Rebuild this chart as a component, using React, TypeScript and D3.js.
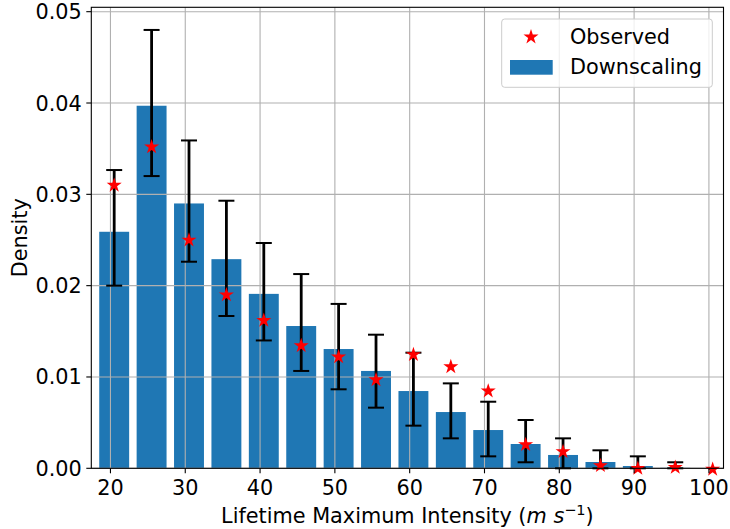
import React from "react";
import * as d3 from "d3";

const centers = [20.5, 25.5, 30.5, 35.5, 40.5, 45.5, 50.5, 55.5, 60.5, 65.5, 70.5, 75.5, 80.5, 85.5, 90.5, 95.5, 100.5];
const downscaling = [0.0259, 0.0397, 0.0290, 0.0229, 0.0191, 0.01558, 0.01306, 0.01066, 0.00846, 0.00616, 0.00419, 0.00266, 0.00146, 0.00069, 0.00025, 0.00005, 0.0];
const errUpper = [0.03266, 0.0480, 0.0359, 0.0293, 0.02467, 0.02127, 0.0180, 0.01463, 0.01266, 0.0093, 0.00729, 0.00529, 0.00328, 0.00197, 0.00131, 0.00066, 0.0];
const errLower = [0.0200, 0.0320, 0.02262, 0.01668, 0.0140, 0.01066, 0.00865, 0.00664, 0.00467, 0.00328, 0.00131, 0.00066, 0.0, 0.0, 0.0, 0.0, 0.0];
const observed = [0.0311, 0.0353, 0.0251, 0.0191, 0.0163, 0.01353, 0.0123, 0.0098, 0.01255, 0.01123, 0.00857, 0.0027, 0.00193, 0.0004, 0.0001, 0.0002, 0.0];
const xTicks = [20, 30, 40, 50, 60, 70, 80, 90, 100];
const yTicks = [0, 0.01, 0.02, 0.03, 0.04, 0.05];

const W = 730, H = 529;
const L = 91.3, R = 723.5, T = 7.3, B = 468.3;
const FONT = "DejaVu Sans, sans-serif";
const FS = 20.8;

export default function App() {
  const x = d3.scaleLinear().domain([17.44, 101.95]).range([L, R]);
  const y = d3.scaleLinear().domain([0, 0.05048]).range([B, T]);
  const barW = x(4) - x(0);
  const star = d3.symbol().type(d3.symbolStar).size(70)() as string;
  const capHalf = 8;

  return (
    <svg width={W} height={H} style={{ position: "absolute", left: 0, top: 0, background: "#fff" }} fontFamily={FONT}>
      <rect x={0} y={0} width={W} height={H} fill="#fff" />
      {/* bars */}
      {centers.map((c, i) => (
        <rect key={"b" + i} x={x(c) - barW / 2} y={y(downscaling[i])} width={barW} height={B - y(downscaling[i])} fill="#1f77b4" />
      ))}
      {/* grid */}
      {xTicks.map((t) => (
        <line key={"gx" + t} x1={x(t)} x2={x(t)} y1={T} y2={B} stroke="#b0b0b0" strokeWidth={1.1} />
      ))}
      {yTicks.map((t) => (
        <line key={"gy" + t} x1={L} x2={R} y1={y(t)} y2={y(t)} stroke="#b0b0b0" strokeWidth={1.1} />
      ))}
      {/* error bars */}
      {centers.map((c, i) =>
        errUpper[i] > 0 ? (
          <g key={"e" + i} stroke="#000" strokeWidth={2.8}>
            <line x1={x(c)} x2={x(c)} y1={y(errUpper[i])} y2={y(errLower[i])} />
            <line x1={x(c) - capHalf} x2={x(c) + capHalf} y1={y(errUpper[i])} y2={y(errUpper[i])} strokeWidth={2} />
            <line x1={x(c) - capHalf} x2={x(c) + capHalf} y1={y(errLower[i])} y2={y(errLower[i])} strokeWidth={2} />
          </g>
        ) : null
      )}
      {/* observed stars */}
      {centers.map((c, i) => (
        <path key={"s" + i} d={star} transform={`translate(${x(c)},${y(observed[i]) + 1})`} fill="#ff0000" />
      ))}
      {/* spines */}
      <rect x={L} y={T} width={R - L} height={B - T} fill="none" stroke="#000" strokeWidth={1.1} />
      {/* x ticks */}
      {xTicks.map((t) => (
        <g key={"xt" + t}>
          <line x1={x(t)} x2={x(t)} y1={B} y2={B + 5} stroke="#000" strokeWidth={1.1} />
          <text x={x(t)} y={B + 27} textAnchor="middle" fontSize={FS} fill="#000">{t}</text>
        </g>
      ))}
      {/* y ticks */}
      {yTicks.map((t) => (
        <g key={"yt" + t}>
          <line x1={L - 5} x2={L} y1={y(t)} y2={y(t)} stroke="#000" strokeWidth={1.1} />
          <text x={L - 9.5} y={y(t) + 7.5} textAnchor="end" fontSize={FS} fill="#000">{t.toFixed(2)}</text>
        </g>
      ))}
      {/* axis labels */}
      <text x={(L + R) / 2} y={522.5} textAnchor="middle" fontSize={FS} fill="#000">
        Lifetime Maximum Intensity (<tspan fontStyle="italic">m</tspan> <tspan fontStyle="italic">s</tspan>
        <tspan dy={-8} fontSize={14.5}>−1</tspan>
        <tspan dy={8}>)</tspan>
      </text>
      <text transform={`translate(27,${(T + B) / 2}) rotate(-90)`} textAnchor="middle" fontSize={FS} fill="#000">Density</text>
      {/* legend */}
      <rect x={501.7} y={19} width={210.6} height={68.3} rx={3} fill="#fff" fillOpacity={0.8} stroke="#cccccc" strokeWidth={1} />
      <path d={star} transform="translate(531,37)" fill="#ff0000" />
      <rect x={510} y={60} width={42.7} height={14.7} fill="#1f77b4" />
      <text x={570} y={43.7} fontSize={FS} fill="#000">Observed</text>
      <text x={570} y={74} fontSize={FS} fill="#000">Downscaling</text>
    </svg>
  );
}
